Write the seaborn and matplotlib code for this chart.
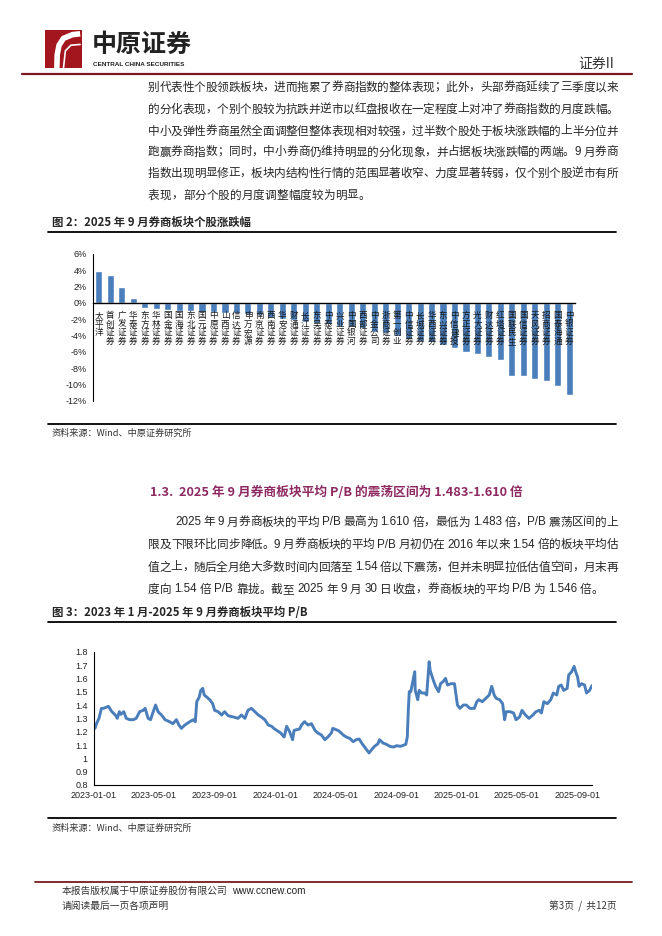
import re
import pandas as pd
import matplotlib.pyplot as plt
import matplotlib.dates as mdates
import matplotlib.ticker as mticker
import seaborn as sns
from matplotlib.font_manager import FontProperties

# --- DATA: figure 2, Sept 2025 monthly change of broker stocks (%) ---
stocks = ['太平洋', '首创证券', '广发证券', '华泰证券', '东方证券', '华林证券', '国金证券',
          '国海证券', '东北证券', '国元证券', '中原证券', '山西证券', '信达证券', '申万宏源',
          '南京证券', '西南证券', '华安证券', '财通证券', '长江证券', '东吴证券', '中泰证券',
          '兴业证券', '中国银河', '西部证券', '中金公司', '浙商证券', '第一创业', '中信证券',
          '长城证券', '华西证券', '东兴证券', '中信建投', '方正证券', '光大证券', '财达证券',
          '红塔证券', '国联民生', '国信证券', '天风证券', '招商证券', '国泰海通', '中银证券']
change_pct = [3.9, 3.4, 1.9, 0.6, -0.6, -0.7, -0.9, -1.0, -1.0, -1.1, -1.1, -1.2, -1.2, -1.3,
              -1.5, -1.8, -2.0, -2.1, -2.3, -2.4, -2.6, -2.8, -3.0, -3.1, -3.5, -3.7, -4.1, -4.4,
              -4.6, -4.8, -5.2, -5.5, -6.0, -6.3, -6.6, -7.0, -8.9, -9.0, -9.3, -9.5, -10.2, -11.3]
bar_yticks = [6, 4, 2, 0, -2, -4, -6, -8, -10, -12]

# --- DATA: figure 3, average P/B of the broker sector ---
pb_dates = ['2023-01-03', '2023-01-06', '2023-01-11', '2023-01-16', '2023-01-20', '2023-01-30',
            '2023-02-06', '2023-02-13', '2023-02-17', '2023-02-21', '2023-02-24', '2023-03-02',
            '2023-03-07', '2023-03-14', '2023-03-21', '2023-03-27', '2023-04-03', '2023-04-10',
            '2023-04-14', '2023-04-20', '2023-04-25', '2023-04-28', '2023-05-05', '2023-05-10',
            '2023-05-17', '2023-05-24', '2023-06-02', '2023-06-09', '2023-06-16', '2023-06-21',
            '2023-06-26', '2023-07-03', '2023-07-13', '2023-07-20', '2023-07-24', '2023-07-27',
            '2023-08-01', '2023-08-04', '2023-08-08', '2023-08-11', '2023-08-16', '2023-08-22',
            '2023-08-28', '2023-09-01', '2023-09-08', '2023-09-15', '2023-09-21', '2023-09-28',
            '2023-10-09', '2023-10-18', '2023-10-25', '2023-11-01', '2023-11-07', '2023-11-14',
            '2023-11-21', '2023-11-28', '2023-12-04', '2023-12-11', '2023-12-18', '2023-12-25',
            '2023-12-29', '2024-01-08', '2024-01-12', '2024-01-19', '2024-01-24', '2024-01-30',
            '2024-02-05', '2024-02-08', '2024-02-19', '2024-02-23', '2024-02-29', '2024-03-07',
            '2024-03-14', '2024-03-21', '2024-03-27', '2024-04-03', '2024-04-10', '2024-04-16',
            '2024-04-23', '2024-04-26', '2024-05-06', '2024-05-10', '2024-05-17', '2024-05-23',
            '2024-05-30', '2024-06-06', '2024-06-12', '2024-06-18', '2024-06-24', '2024-07-01',
            '2024-07-08', '2024-07-12', '2024-07-19', '2024-07-26', '2024-07-29', '2024-08-05',
            '2024-08-12', '2024-08-19', '2024-08-26', '2024-09-02', '2024-09-09', '2024-09-13',
            '2024-09-20', '2024-09-23', '2024-09-25', '2024-09-27', '2024-09-30', '2024-10-08',
            '2024-10-09', '2024-10-14', '2024-10-17', '2024-10-22', '2024-10-28', '2024-11-01',
            '2024-11-06', '2024-11-08', '2024-11-14', '2024-11-19', '2024-11-25', '2024-11-29',
            '2024-12-04', '2024-12-09', '2024-12-13', '2024-12-20', '2024-12-27', '2025-01-02',
            '2025-01-07', '2025-01-14', '2025-01-20', '2025-01-27', '2025-02-05', '2025-02-10',
            '2025-02-14', '2025-02-21', '2025-02-28', '2025-03-07', '2025-03-12', '2025-03-17',
            '2025-03-21', '2025-03-28', '2025-04-03', '2025-04-07', '2025-04-10', '2025-04-18',
            '2025-04-25', '2025-04-30', '2025-05-07', '2025-05-12', '2025-05-19', '2025-05-26',
            '2025-06-03', '2025-06-09', '2025-06-16', '2025-06-20', '2025-06-25', '2025-07-02',
            '2025-07-09', '2025-07-14', '2025-07-21', '2025-07-25', '2025-07-30', '2025-08-04',
            '2025-08-11', '2025-08-14', '2025-08-20', '2025-08-25', '2025-08-28', '2025-09-01',
            '2025-09-04', '2025-09-09', '2025-09-15', '2025-09-19', '2025-09-25', '2025-09-30']
pb_values = [1.225, 1.26, 1.30, 1.375, 1.375, 1.39, 1.35, 1.325, 1.30, 1.35, 1.33, 1.35,
             1.30, 1.29, 1.29, 1.30, 1.35, 1.36, 1.375, 1.30, 1.29, 1.325, 1.40, 1.35,
             1.325, 1.29, 1.275, 1.26, 1.29, 1.25, 1.225, 1.25, 1.275, 1.29, 1.275, 1.425,
             1.46, 1.51, 1.525, 1.475, 1.46, 1.44, 1.41, 1.36, 1.35, 1.325, 1.35, 1.32,
             1.31, 1.30, 1.325, 1.30, 1.36, 1.375, 1.35, 1.325, 1.31, 1.29, 1.25, 1.24,
             1.225, 1.20, 1.19, 1.16, 1.24, 1.20, 1.14, 1.21, 1.22, 1.25, 1.275, 1.25,
             1.26, 1.21, 1.19, 1.175, 1.14, 1.16, 1.19, 1.225, 1.21, 1.20, 1.175, 1.16,
             1.15, 1.125, 1.14, 1.145, 1.11, 1.075, 1.04, 1.06, 1.09, 1.11, 1.14, 1.115,
             1.105, 1.09, 1.085, 1.095, 1.09, 1.095, 1.105, 1.16, 1.36, 1.50, 1.50, 1.65,
             1.51, 1.44, 1.51, 1.49, 1.49, 1.475, 1.725, 1.66, 1.59, 1.54, 1.50, 1.56,
             1.575, 1.60, 1.55, 1.56, 1.56, 1.40, 1.375, 1.40, 1.40, 1.375, 1.375, 1.425,
             1.44, 1.425, 1.45, 1.475, 1.54, 1.475, 1.45, 1.44, 1.41, 1.29, 1.35, 1.35,
             1.34, 1.29, 1.31, 1.36, 1.325, 1.30, 1.325, 1.35, 1.36, 1.34, 1.425, 1.41,
             1.44, 1.49, 1.475, 1.54, 1.55, 1.51, 1.525, 1.625, 1.65, 1.69, 1.65, 1.61,
             1.54, 1.56, 1.55, 1.49, 1.51, 1.546]
pb_xticks = ['2023-01-01', '2023-05-01', '2023-09-01', '2024-01-01', '2024-05-01',
             '2024-09-01', '2025-01-01', '2025-05-01', '2025-09-01']
pb_yticks = [0.8, 0.9, 1.0, 1.1, 1.2, 1.3, 1.4, 1.5, 1.6, 1.7, 1.8]

# --- PAGE TEXT ---
para1 = ['别代表性个股领跌板块，进而拖累了券商指数的整体表现；此外，头部券商延续了三季度以来',
         '的分化表现，个别个股较为抗跌并逆市以红盘报收在一定程度上对冲了券商指数的月度跌幅。',
         '中小及弹性券商虽然全面调整但整体表现相对较强，过半数个股处于板块涨跌幅的上半分位并',
         '跑赢券商指数；同时，中小券商仍维持明显的分化现象，并占据板块涨跌幅的两端。9 月券商',
         '指数出现明显修正，板块内结构性行情的范围显著收窄、力度显著转弱，仅个别个股逆市有所',
         '表现，部分个股的月度调整幅度较为明显。']
para2 = ['2025 年 9 月券商板块的平均 P/B 最高为 1.610 倍，最低为 1.483 倍，P/B 震荡区间的上',
         '限及下限环比同步降低。9 月券商板块的平均 P/B 月初仍在 2016 年以来 1.54 倍的板块平均估',
         '值之上，随后全月绝大多数时间内回落至 1.54 倍以下震荡，但并未明显拉低估值空间，月末再',
         '度向 1.54 倍 P/B 靠拢。截至 2025 年 9 月 30 日收盘，券商板块的平均 P/B 为 1.546 倍。']

# --- STYLE ---
W, H = 662, 936
BLUE = '#4a7ebb'
DARKRED = '#7a1a1e'
TEXT = '#262626'
sns.set_theme(style='white')
CJK = ['Noto Sans CJK SC', 'DejaVu Sans']
LAT = ['Liberation Sans', 'Noto Sans CJK SC']
plt.rcParams['font.family'] = CJK

fig = plt.figure(figsize=(W / 100, H / 100), dpi=100)
renderer = fig.canvas.get_renderer()


def fx(x):
    return x / W


def fy(y):
    return 1 - y / H


def put(x, y, s, size=8.5, **kw):
    kw.setdefault('color', TEXT)
    kw.setdefault('va', 'center')
    fig.text(fx(x), fy(y), s, fontsize=size, **kw)


def hline(x0, x1, y, color='black', lw=1.0):
    fig.add_artist(plt.Line2D([fx(x0), fx(x1)], [fy(y), fy(y)], color=color, lw=lw,
                              transform=fig.transFigure))


def line_of_text(x0, x1, y, s, size=8.5, justify=True):
    # place CJK chars one by one (full em each) so the line can be justified like Word does
    prop = FontProperties(family=LAT, size=size)
    em = size * 100 / 72
    tokens = re.findall(r'[A-Za-z0-9./\-%]+| |.', s)
    widths = []
    for t in tokens:
        if t == ' ':
            widths.append(0.25 * em)
        elif ord(t[0]) > 0x2E80:
            widths.append(em)
        else:
            widths.append(renderer.get_text_width_height_descent(t, prop, ismath=False)[0])
    gap = (x1 - x0 - sum(widths)) / (len(tokens) - 1) if justify else 0
    x = x0
    for t, w in zip(tokens, widths):
        if t != ' ':
            fam = CJK if ord(t[0]) > 0x2E80 else LAT
            put(x, y, t, size=size, ha='left', family=fam)
        x += w + gap


# --- HEADER ---
logo = fig.add_axes([fx(45), fy(68), fx(82) - fx(45), fy(30) - fy(68)])
logo.set_facecolor('#a3161d')
logo.set_xlim(0, 1)
logo.set_ylim(0, 1)
logo.plot([0.95, 0.75, 0.5, 0.38, 0.33, 0.32], [0.9, 0.88, 0.78, 0.6, 0.35, 0.0],
          color='white', lw=4, solid_capstyle='butt')
logo.plot([0.95, 0.7, 0.55, 0.5], [0.62, 0.6, 0.45, 0.0], color='white', lw=1.2)
logo.set_xticks([])
logo.set_yticks([])
for s in logo.spines.values():
    s.set_visible(False)

put(92, 45, '中原证券', size=18, ha='left', fontweight='heavy', color='#222222')
put(93, 65, 'CENTRAL CHINA SECURITIES', size=4.6, ha='left', fontweight='bold',
    family=LAT, color='#222222')
put(614, 64, '证券II', size=10, ha='right', color='#333333')
hline(22, 632, 74, color=DARKRED, lw=1.6)

# --- PARAGRAPH 1 ---
p1_y = [87, 109, 131, 152, 173, 195]
for i, (s, y) in enumerate(zip(para1, p1_y)):
    line_of_text(148, 618, y, s, size=8.4, justify=(i < len(para1) - 1))

# --- FIGURE 2 ---
put(52, 222, '图 2：2025 年 9 月券商板块个股涨跌幅', size=8.2, ha='left', fontweight='bold')
hline(48, 616, 232, lw=1.3)

ax1 = fig.add_axes([fx(93), fy(401), fx(575) - fx(93), fy(254) - fy(401)])
df_bar = pd.DataFrame({'stock': stocks, 'change': change_pct})
sns.barplot(data=df_bar, x='stock', y='change', order=stocks, color=BLUE, width=0.62,
            saturation=1, ax=ax1)
ax1.set_ylim(-12, 6)
ax1.set_xlim(-0.5, len(stocks) - 0.5)
ax1.set_yticks(bar_yticks)
ax1.yaxis.set_major_formatter(mticker.FuncFormatter(lambda v, p: f'{v:.0f}%'))
ax1.set_xlabel('')
ax1.set_ylabel('')
ax1.set_xticks([])
ax1.set_xticks([i - 0.5 for i in range(len(stocks) + 1)], minor=True)
ax1.tick_params(axis='x', which='minor', direction='inout', length=4, width=0.8, color='black')
ax1.tick_params(axis='y', direction='out', length=2.5, width=0.8, color='black', pad=2,
                labelsize=6.5, labelcolor='#222222')
for lbl in ax1.get_yticklabels():
    lbl.set_family(LAT)
ax1.spines['bottom'].set_position(('data', 0))
ax1.spines['top'].set_visible(False)
ax1.spines['right'].set_visible(False)
ax1.spines['left'].set_color('black')
ax1.spines['bottom'].set_color('black')
ax1.spines['left'].set_linewidth(0.8)
ax1.spines['bottom'].set_linewidth(1.0)
# vertical category names: one character per row, stacked under the zero line
for i, name in enumerate(stocks):
    for j, ch in enumerate(name):
        ax1.annotate(ch, xy=(i, 0), xytext=(0, -(12.5 + j * 8.7) * 0.72),
                     textcoords='offset points', ha='center', va='center',
                     fontsize=6.2, color='#1a1a1a')

put(52, 433, '资料来源：Wind、中原证券研究所', size=6.6, ha='left', color='#333333')
hline(48, 616, 424, lw=1.3)

# --- SECTION 1.3 ---
put(150, 492, '1.3.  2025 年 9 月券商板块平均 P/B 的震荡区间为 1.483-1.610 倍', size=9.2,
    ha='left', fontweight='bold', color='#8e2a62')

p2_y = [522, 544.5, 567, 589.5]
for i, (s, y) in enumerate(zip(para2, p2_y)):
    x0 = 175 if i == 0 else 148
    line_of_text(x0, 618, y, s, size=8.4, justify=(i < len(para2) - 1))

# --- FIGURE 3 ---
put(52, 612, '图 3：2023 年 1 月-2025 年 9 月券商板块平均 P/B', size=8.2, ha='left',
    fontweight='bold')
hline(48, 616, 622, lw=1.3)

ax2 = fig.add_axes([fx(94), fy(785), fx(592) - fx(94), fy(651.7) - fy(785)])
df_pb = pd.DataFrame({'date': pd.to_datetime(pb_dates), 'pb': pb_values})
sns.lineplot(data=df_pb, x='date', y='pb', color=BLUE, lw=2.1, ax=ax2)
ax2.set_xlim(pd.Timestamp('2023-01-01'), pd.Timestamp('2025-09-30'))
ax2.set_ylim(0.8, 1.8)
ax2.set_yticks(pb_yticks)
ax2.yaxis.set_major_formatter(mticker.FuncFormatter(lambda v, p: f'{v:g}'))
ax2.set_xticks(pd.to_datetime(pb_xticks))
ax2.xaxis.set_major_formatter(mdates.DateFormatter('%Y-%m-%d'))
ax2.set_xlabel('')
ax2.set_ylabel('')
ax2.tick_params(axis='both', direction='out', length=2.5, width=0.8, color='black', pad=2,
                labelsize=6.5, labelcolor='#222222')
for lbl in ax2.get_xticklabels() + ax2.get_yticklabels():
    lbl.set_family(LAT)
ax2.spines['top'].set_visible(False)
ax2.spines['right'].set_visible(False)
ax2.spines['left'].set_color('black')
ax2.spines['bottom'].set_color('black')
ax2.spines['left'].set_linewidth(0.8)
ax2.spines['bottom'].set_linewidth(0.8)

hline(48, 616, 818, lw=1.3)
put(52, 828, '资料来源：Wind、中原证券研究所', size=6.6, ha='left', color='#333333')

# --- FOOTER ---
hline(35, 632, 882, color=DARKRED, lw=1.3)
put(62, 891, '本报告版权属于中原证券股份有限公司', size=7, ha='left', color='#333333')
put(232, 891, 'www.ccnew.com', size=7.2, ha='left', family=LAT, color='#222222')
put(62, 906, '请阅读最后一页各项声明', size=7, ha='left', color='#333333')
put(617, 906, '第3页  /  共12页', size=7, ha='right', color='#333333')

plt.savefig('out.png', dpi=100)
print("-> Saved 'out.png'")
